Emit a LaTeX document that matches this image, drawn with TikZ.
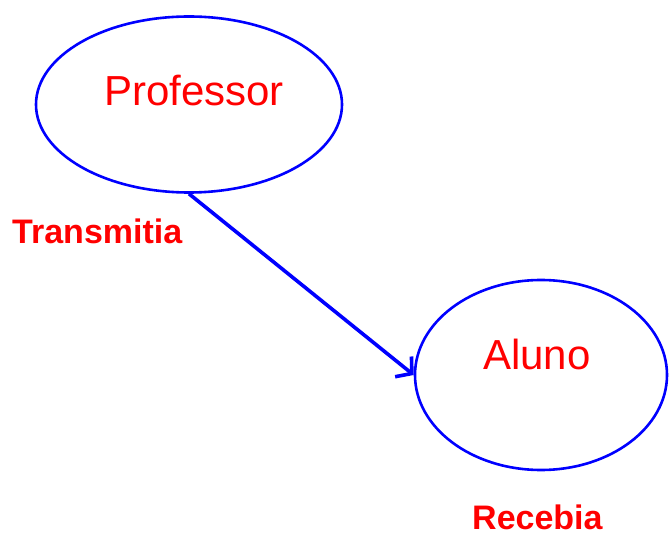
\documentclass[tikz,border=0pt]{standalone}
\usepackage{fontspec}
\setmainfont{Liberation Sans}
\usetikzlibrary{shapes.geometric,arrows.meta}
\definecolor{pblue}{RGB}{0,0,255}
\definecolor{pred}{RGB}{255,0,0}
\tikzset{
  role/.style={ellipse, draw=pblue, line width=2.6pt, inner sep=0pt},
  rolename/.style={text=pred, font=\fontsize{42}{42}\selectfont, anchor=base, inner sep=0pt},
  action/.style={text=pred, font=\fontsize{34}{34}\selectfont\bfseries, anchor=base west, inner sep=0pt},
  flow/.style={draw=pblue, line width=3.6pt, -{Straight Barb[length=11pt,width=26pt,line width=3.6pt]}}
}
\begin{document}
\begin{tikzpicture}[x=1pt,y=1pt]
  \useasboundingbox (0,0) rectangle (669,-534);
  % the two roles
  \node[role, minimum width=306pt, minimum height=176pt] (prof) at (189,-104.5) {};
  \node[role, minimum width=252pt, minimum height=190pt] (aluno) at (541,-375) {};
  \node[rolename] (proftext) at (194,-106) {Professor};
  \node[rolename] (alunotext) at (537,-370) {Aluno};
  % what each side does
  \node[action] (transmitia) at (12,-244) {Transmitia};
  \node[action] (recebia) at (472,-529) {Recebia};
  % teacher to student
  \draw[flow] (prof.south) -- (aluno.west);
\end{tikzpicture}
\end{document}
